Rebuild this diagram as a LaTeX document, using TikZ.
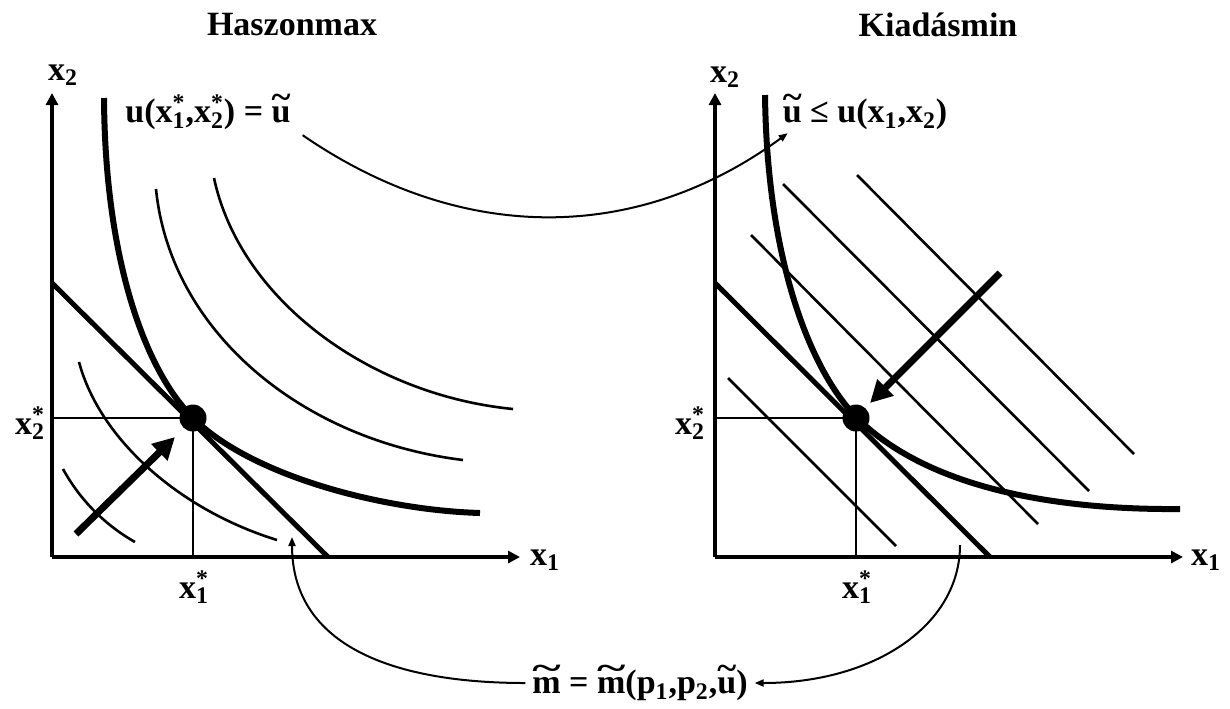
\documentclass[tikz,border=0pt]{standalone}
\usepackage{fontspec}
\setmainfont{Liberation Serif}
\usetikzlibrary{arrows.meta}

\newcommand{\supsub}[2]{\rlap{\textsuperscript{#1}}\textsubscript{#2}}
\newcommand{\tld}[1]{\setbox0=\hbox{#1}\leavevmode\rlap{\raisebox{0.43em}{\resizebox{\wd0}{\height}{\char"7E}}}\box0\relax}

\begin{document}
\begin{tikzpicture}[
    x=0.5pt, y=-0.5pt,
    every node/.style = {font=\bfseries\fontsize{17}{20}\selectfont},
    axis/.style = {line width=2pt, -{Triangle[length=6pt,width=6pt]}},
    budget/.style = {line width=2.5pt},
    ucurve/.style = {line width=3pt},
    icurve/.style = {line width=1.3pt},
    guide/.style = {line width=1.1pt},
    shift arrow/.style = {line width=3.5pt, -{Triangle[length=11pt,width=11pt]}},
    link/.style = {line width=1pt, -{Triangle[length=4.5pt,width=3.5pt]}},
    optimum/.style = {circle, fill, inner sep=0pt, minimum size=13.5pt}
  ]
  \useasboundingbox (0,0) rectangle (1230,708);

  \node (titleL) at (292,25) {Haszonmax};
  \node (titleR) at (938,25) {Kiadásmin};

  \coordinate (oL) at (52,557);
  \draw[axis] (oL) -- (52,93);
  \draw[axis] (oL) -- (520,557);
  \node (x2L) at (63,75) {x\textsubscript{2}};
  \node (x1L) at (545,560) {x\textsubscript{1}};

  \draw[icurve] (63,469) .. controls (80,500) and (105,525) .. (135,542);
  \draw[icurve] (79,362) .. controls (100,440) and (180,510) .. (277,540);
  \draw[icurve] (156,189) .. controls (170,330) and (300,440) .. (463,460);
  \draw[icurve] (214,178) .. controls (240,300) and (370,395) .. (513,409);
  \draw[ucurve] (104,98) .. controls (105,260) and (145,370) .. (193,418)
                       .. controls (250,475) and (380,510) .. (480,513);
  \draw[budget] (52,283) -- (328,557);
  \draw[guide] (52,418) -- (193,418) -- (193,557);
  \node[optimum] (optL) at (193,418) {};
  \node (x2sL) at (30,423) {x\supsub{*}{2}};
  \node (x1sL) at (194,587) {x\supsub{*}{1}};
  \draw[shift arrow] (76,534) -- (175,437);
  \node (uopt) at (208,112) {u(x\supsub{*}{1},x\supsub{*}{2}) = \tld{u}};

  \coordinate (oR) at (715,557);
  \draw[axis] (oR) -- (715,93);
  \draw[axis] (oR) -- (1183,557);
  \node (x2R) at (725,77) {x\textsubscript{2}};
  \node (x1R) at (1206,560) {x\textsubscript{1}};

  \draw[icurve] (728,378) -- (896,546);
  \draw[icurve] (751,235) -- (1038,524);
  \draw[icurve] (783,184) -- (1089,491);
  \draw[icurve] (857,175) -- (1134,454);
  \draw[ucurve] (765,95) .. controls (767,260) and (810,370) .. (857,418)
                       .. controls (930,490) and (1060,510) .. (1180,509);
  \draw[budget] (715,283) -- (990,557);
  \draw[guide] (715,418) -- (856,418) -- (856,557);
  \node[optimum] (optR) at (856,418) {};
  \node (x2sR) at (690,423) {x\supsub{*}{2}};
  \node (x1sR) at (857,587) {x\supsub{*}{1}};
  \draw[shift arrow] (1000,273) -- (870,403);
  \node (ubound) at (865,112) {\tld{u} ≤ u(x\textsubscript{1},x\textsubscript{2})};

  \node (mexp) at (640,683) {\tld{m} = \tld{m}(p\textsubscript{1},p\textsubscript{2},\tld{u})};
  \coordinate (gapL) at (292,537);
  \coordinate (gapR) at (960,545);

  \draw[link] ([xshift=2.5pt,yshift=1pt]uopt.south east) .. controls +(160,110) and +(-150,110) .. ([xshift=6pt,yshift=2pt]ubound.south west);
  \draw[link] (mexp.west) .. controls +(-130,0) and +(0,110) .. (gapL);
  \draw[link] (gapR) .. controls +(0,80) and +(120,0) .. (mexp.east);
\end{tikzpicture}
\end{document}
